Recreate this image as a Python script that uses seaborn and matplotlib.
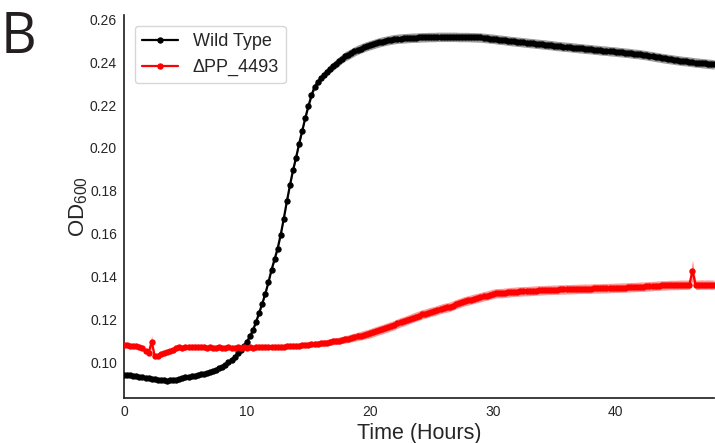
import numpy as np
import pandas as pd
import matplotlib
matplotlib.use("Agg")
import matplotlib.pyplot as plt
import seaborn as sns

# ---------------- data ----------------
time_h = [i * 0.25 for i in range(193)]  # sampling grid, 0 .. 48 h

wild_type = [
    0.0940, 0.0939, 0.0938, 0.0937, 0.0935, 0.0932, 0.0929, 0.0926, 0.0924, 0.0921, 0.0919, 0.0917,
    0.0916, 0.0915, 0.0913, 0.0914, 0.0915, 0.0918, 0.0922, 0.0926, 0.0930, 0.0932, 0.0934, 0.0936,
    0.0939, 0.0942, 0.0946, 0.0950, 0.0955, 0.0960, 0.0965, 0.0971, 0.0978, 0.0987, 0.0998, 0.1010,
    0.1025, 0.1040, 0.1057, 0.1075, 0.1095, 0.1120, 0.1150, 0.1188, 0.1230, 0.1273, 0.1320, 0.1372,
    0.1430, 0.1480, 0.1530, 0.1595, 0.1670, 0.1750, 0.1825, 0.1895, 0.1955, 0.2020, 0.2080, 0.2140,
    0.2195, 0.2245, 0.2285, 0.2307, 0.2325, 0.2341, 0.2356, 0.2369, 0.2381, 0.2393, 0.2405, 0.2417,
    0.2428, 0.2435, 0.2443, 0.2451, 0.2458, 0.2464, 0.2470, 0.2475, 0.2480, 0.2484, 0.2489, 0.2493,
    0.2497, 0.2500, 0.2503, 0.2506, 0.2508, 0.2510, 0.2511, 0.2512, 0.2513, 0.2514, 0.2515, 0.2515,
    0.2516, 0.2517, 0.2517, 0.2518, 0.2518, 0.2518, 0.2519, 0.2519, 0.2519, 0.2519, 0.2519, 0.2519,
    0.2519, 0.2518, 0.2518, 0.2518, 0.2518, 0.2517, 0.2517, 0.2516, 0.2516, 0.2514, 0.2513, 0.2511,
    0.2510, 0.2508, 0.2506, 0.2505, 0.2503, 0.2501, 0.2499, 0.2498, 0.2496, 0.2495, 0.2493, 0.2492,
    0.2490, 0.2489, 0.2487, 0.2486, 0.2484, 0.2483, 0.2481, 0.2480, 0.2478, 0.2476, 0.2475, 0.2473,
    0.2472, 0.2471, 0.2469, 0.2468, 0.2466, 0.2465, 0.2463, 0.2462, 0.2461, 0.2459, 0.2458, 0.2456,
    0.2455, 0.2454, 0.2452, 0.2451, 0.2450, 0.2448, 0.2447, 0.2445, 0.2444, 0.2442, 0.2440, 0.2439,
    0.2437, 0.2435, 0.2433, 0.2430, 0.2428, 0.2425, 0.2423, 0.2420, 0.2418, 0.2416, 0.2414, 0.2412,
    0.2410, 0.2408, 0.2406, 0.2405, 0.2403, 0.2401, 0.2399, 0.2398, 0.2396, 0.2395, 0.2393, 0.2392,
    0.2390,
]

mutant = [
    0.1079, 0.1078, 0.1077, 0.1077, 0.1075, 0.1071, 0.1064, 0.1052, 0.1042, 0.1095, 0.1028, 0.1030,
    0.1037, 0.1042, 0.1048, 0.1053, 0.1058, 0.1064, 0.1069, 0.1067, 0.1068, 0.1069, 0.1070, 0.1068,
    0.1069, 0.1071, 0.1068, 0.1067, 0.1069, 0.1066, 0.1067, 0.1068, 0.1066, 0.1067, 0.1068, 0.1066,
    0.1067, 0.1068, 0.1067, 0.1068, 0.1067, 0.1068, 0.1067, 0.1068, 0.1069, 0.1068, 0.1069, 0.1070,
    0.1070, 0.1071, 0.1071, 0.1072, 0.1072, 0.1073, 0.1074, 0.1075, 0.1075, 0.1077, 0.1079, 0.1080,
    0.1081, 0.1082, 0.1084, 0.1086, 0.1087, 0.1089, 0.1091, 0.1093, 0.1096, 0.1098, 0.1100, 0.1103,
    0.1106, 0.1109, 0.1113, 0.1116, 0.1120, 0.1123, 0.1127, 0.1130, 0.1134, 0.1139, 0.1144, 0.1149,
    0.1153, 0.1158, 0.1163, 0.1168, 0.1173, 0.1180, 0.1186, 0.1190, 0.1196, 0.1201, 0.1207, 0.1212,
    0.1217, 0.1223, 0.1226, 0.1231, 0.1235, 0.1238, 0.1243, 0.1248, 0.1252, 0.1255, 0.1258, 0.1264,
    0.1270, 0.1275, 0.1280, 0.1285, 0.1288, 0.1292, 0.1296, 0.1299, 0.1303, 0.1307, 0.1310, 0.1314,
    0.1318, 0.1321, 0.1322, 0.1322, 0.1324, 0.1325, 0.1327, 0.1328, 0.1329, 0.1330, 0.1331, 0.1331,
    0.1332, 0.1333, 0.1334, 0.1335, 0.1335, 0.1336, 0.1337, 0.1337, 0.1338, 0.1338, 0.1339, 0.1339,
    0.1340, 0.1340, 0.1341, 0.1341, 0.1342, 0.1342, 0.1343, 0.1342, 0.1343, 0.1344, 0.1344, 0.1344,
    0.1345, 0.1345, 0.1346, 0.1346, 0.1347, 0.1347, 0.1348, 0.1348, 0.1349, 0.1350, 0.1350, 0.1351,
    0.1352, 0.1352, 0.1353, 0.1354, 0.1355, 0.1356, 0.1357, 0.1358, 0.1358, 0.1359, 0.1360, 0.1360,
    0.1360, 0.1361, 0.1361, 0.1361, 0.1362, 0.1427, 0.1361, 0.1361, 0.1362, 0.1361, 0.1362, 0.1361,
    0.1361,
]

wild_type_sd = [
    0.0004, 0.0004, 0.0004, 0.0004, 0.0004, 0.0004, 0.0004, 0.0004, 0.0004, 0.0004, 0.0004, 0.0004,
    0.0004, 0.0004, 0.0004, 0.0004, 0.0004, 0.0004, 0.0004, 0.0004, 0.0004, 0.0004, 0.0004, 0.0004,
    0.0005, 0.0005, 0.0005, 0.0005, 0.0005, 0.0005, 0.0005, 0.0005, 0.0005, 0.0005, 0.0005, 0.0005,
    0.0006, 0.0006, 0.0006, 0.0006, 0.0006, 0.0006, 0.0006, 0.0006, 0.0006, 0.0006, 0.0006, 0.0006,
    0.0008, 0.0008, 0.0008, 0.0008, 0.0008, 0.0008, 0.0008, 0.0008, 0.0008, 0.0008, 0.0008, 0.0008,
    0.0012, 0.0013, 0.0014, 0.0015, 0.0016, 0.0017, 0.0018, 0.0019, 0.0020, 0.0021, 0.0021, 0.0021,
    0.0022, 0.0022, 0.0022, 0.0022, 0.0022, 0.0022, 0.0022, 0.0022, 0.0022, 0.0022, 0.0022, 0.0022,
    0.0022, 0.0022, 0.0022, 0.0022, 0.0022, 0.0022, 0.0022, 0.0022, 0.0022, 0.0022, 0.0022, 0.0022,
    0.0022, 0.0022, 0.0022, 0.0022, 0.0022, 0.0022, 0.0022, 0.0022, 0.0022, 0.0022, 0.0022, 0.0022,
    0.0022, 0.0022, 0.0022, 0.0022, 0.0022, 0.0022, 0.0022, 0.0022, 0.0022, 0.0022, 0.0022, 0.0022,
    0.0022, 0.0022, 0.0022, 0.0022, 0.0022, 0.0022, 0.0022, 0.0022, 0.0022, 0.0022, 0.0022, 0.0022,
    0.0022, 0.0022, 0.0022, 0.0022, 0.0022, 0.0022, 0.0022, 0.0022, 0.0022, 0.0022, 0.0022, 0.0022,
    0.0022, 0.0022, 0.0022, 0.0022, 0.0022, 0.0022, 0.0022, 0.0022, 0.0022, 0.0022, 0.0022, 0.0022,
    0.0022, 0.0022, 0.0022, 0.0022, 0.0022, 0.0022, 0.0022, 0.0022, 0.0022, 0.0022, 0.0022, 0.0022,
    0.0022, 0.0022, 0.0022, 0.0022, 0.0022, 0.0022, 0.0022, 0.0022, 0.0022, 0.0022, 0.0022, 0.0022,
    0.0022, 0.0022, 0.0022, 0.0022, 0.0022, 0.0022, 0.0022, 0.0022, 0.0022, 0.0022, 0.0022, 0.0022,
    0.0022,
]

mutant_sd = [
    0.0008, 0.0008, 0.0008, 0.0008, 0.0008, 0.0008, 0.0008, 0.0008, 0.0008, 0.0030, 0.0008, 0.0008,
    0.0008, 0.0008, 0.0008, 0.0008, 0.0008, 0.0008, 0.0008, 0.0008, 0.0008, 0.0008, 0.0008, 0.0008,
    0.0008, 0.0008, 0.0008, 0.0008, 0.0008, 0.0008, 0.0008, 0.0008, 0.0008, 0.0008, 0.0008, 0.0008,
    0.0008, 0.0008, 0.0008, 0.0008, 0.0008, 0.0008, 0.0008, 0.0008, 0.0008, 0.0008, 0.0008, 0.0008,
    0.0009, 0.0009, 0.0009, 0.0009, 0.0010, 0.0010, 0.0010, 0.0010, 0.0011, 0.0011, 0.0011, 0.0011,
    0.0012, 0.0012, 0.0013, 0.0013, 0.0014, 0.0014, 0.0015, 0.0015, 0.0016, 0.0016, 0.0017, 0.0017,
    0.0018, 0.0018, 0.0019, 0.0019, 0.0020, 0.0020, 0.0021, 0.0021, 0.0022, 0.0022, 0.0022, 0.0022,
    0.0022, 0.0022, 0.0022, 0.0022, 0.0022, 0.0022, 0.0022, 0.0022, 0.0022, 0.0022, 0.0022, 0.0022,
    0.0022, 0.0022, 0.0022, 0.0022, 0.0022, 0.0022, 0.0022, 0.0022, 0.0022, 0.0022, 0.0022, 0.0022,
    0.0022, 0.0022, 0.0022, 0.0022, 0.0022, 0.0022, 0.0022, 0.0022, 0.0022, 0.0022, 0.0022, 0.0022,
    0.0022, 0.0022, 0.0022, 0.0022, 0.0022, 0.0022, 0.0022, 0.0022, 0.0022, 0.0022, 0.0022, 0.0022,
    0.0022, 0.0022, 0.0022, 0.0022, 0.0022, 0.0022, 0.0022, 0.0022, 0.0022, 0.0022, 0.0022, 0.0022,
    0.0022, 0.0022, 0.0022, 0.0022, 0.0022, 0.0022, 0.0022, 0.0022, 0.0022, 0.0022, 0.0022, 0.0022,
    0.0022, 0.0022, 0.0022, 0.0022, 0.0022, 0.0022, 0.0022, 0.0022, 0.0022, 0.0022, 0.0022, 0.0022,
    0.0022, 0.0022, 0.0022, 0.0022, 0.0022, 0.0022, 0.0022, 0.0022, 0.0022, 0.0022, 0.0022, 0.0022,
    0.0022, 0.0022, 0.0022, 0.0022, 0.0022, 0.0050, 0.0022, 0.0022, 0.0022, 0.0022, 0.0022, 0.0022,
    0.0022,
]

strains = ["Wild Type", "\u0394PP_4493"]
colors = ["#000000", "#ff0000"]
x_ticks = [0, 10, 20, 30, 40]
y_ticks = [0.10, 0.12, 0.14, 0.16, 0.18, 0.20, 0.22, 0.24, 0.26]

# ---------------- style ----------------
sns.set_style("white")
plt.rcParams["font.family"] = ["Liberation Sans", "DejaVu Sans"]
plt.rcParams["mathtext.default"] = "regular"

df = pd.DataFrame({
    "Time": time_h + time_h,
    "OD": wild_type + mutant,
    "SD": wild_type_sd + mutant_sd,
    "Strain": [strains[0]] * len(time_h) + [strains[1]] * len(time_h),
})

fig = plt.figure(figsize=(7.15, 4.43), dpi=100)
ax = fig.add_axes([124 / 715, 1 - 398 / 443, 590 / 715, 383 / 443])

for name, col in zip(strains, colors):
    sub = df[df["Strain"] == name]
    ax.fill_between(sub["Time"], sub["OD"] - sub["SD"], sub["OD"] + sub["SD"],
                    color=col, alpha=0.4, linewidth=0, zorder=1)

sns.lineplot(data=df, x="Time", y="OD", hue="Strain", hue_order=strains,
             palette=colors, marker="o", markersize=4.6, markeredgewidth=0,
             linewidth=1.6, ax=ax, errorbar=None, zorder=3)

ax.set_xlim(0, 48)
ax.set_ylim(0.0832, 0.2621)
ax.set_xticks(x_ticks)
ax.set_yticks(y_ticks)
ax.set_yticklabels([f"{v:.2f}" for v in y_ticks])
ax.tick_params(axis="both", length=0, pad=5, labelsize=10, labelcolor="#262626")

sns.despine(ax=ax)
for s in ["left", "bottom"]:
    ax.spines[s].set_color("#262626")
    ax.spines[s].set_linewidth(1.25)

ax.set_xlabel("Time (Hours)", fontsize=15.5, color="#262626", labelpad=3)
ax.set_ylabel("OD$_{600}$", fontsize=16, color="#262626", labelpad=-0.5)

handles, labels = ax.get_legend_handles_labels()
leg = ax.legend(handles, labels, loc="upper left", fontsize=13, frameon=True,
                handlelength=2.0, borderaxespad=0.6)
leg.get_frame().set_edgecolor("#cccccc")

fig.text(1 / 715, 1 - 53 / 443, "B", fontsize=40, family=["Open Sans", "DejaVu Sans"],
         color="#231f20", va="baseline", ha="left")

fig.savefig("out.png", dpi=100)
